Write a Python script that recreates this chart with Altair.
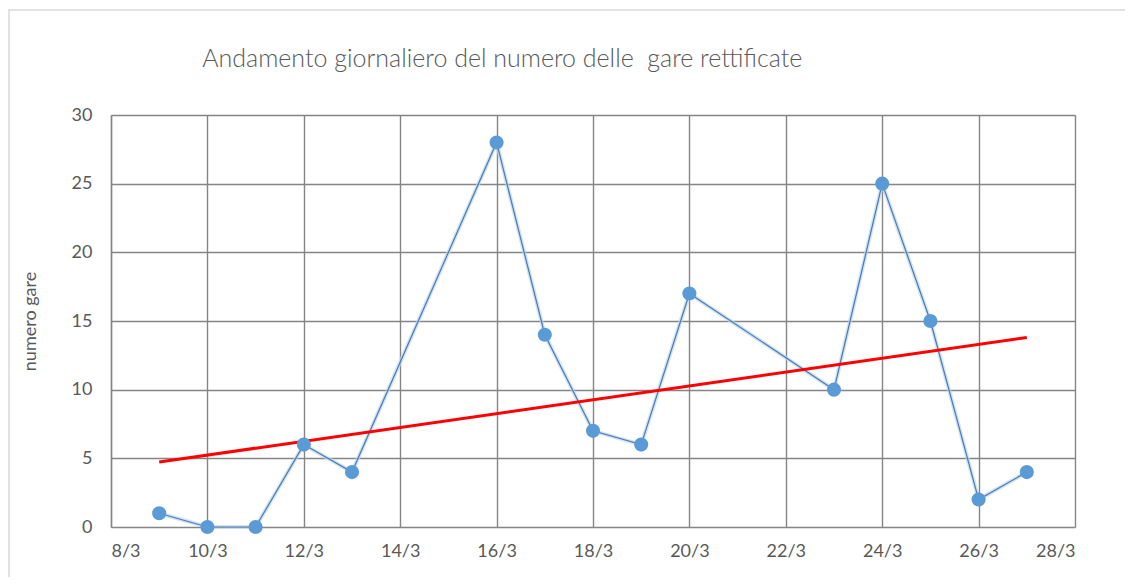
import altair as alt
import pandas as pd

# data (day of March, number of rectified tenders)
days = [9, 10, 11, 12, 13, 16, 17, 18, 19, 20, 23, 24, 25, 26, 27]
counts = [1, 0, 0, 6, 4, 28, 14, 7, 6, 17, 10, 25, 15, 2, 4]
x_ticks = [8, 10, 12, 14, 16, 18, 20, 22, 24, 26, 28]
y_ticks = [0, 5, 10, 15, 20, 25, 30]
month = "3"

df = pd.DataFrame({"day": days, "count": counts})

FONT = "Lato"
GREY_TXT = "#595959"
GRID = "#858585"

x = alt.X(
    "day:Q",
    scale=alt.Scale(domain=[8, 28], nice=False, zero=False),
    axis=alt.Axis(
        values=x_ticks,
        labelExpr=f"datum.value + '/{month}'",
        title=None,
        grid=True,
        gridColor=GRID,
        gridWidth=1.4,
        domain=False,
        ticks=False,
        labelPadding=15,
        labelFontSize=18,
        labelColor=GREY_TXT,
        labelFont=FONT,
    ),
)
y = alt.Y(
    "count:Q",
    scale=alt.Scale(domain=[0, 30], nice=False),
    axis=alt.Axis(
        values=y_ticks,
        title="numero gare",
        titleFont=FONT,
        titleFontSize=18,
        titleFontWeight="normal",
        titleColor=GREY_TXT,
        titleX=-81,
        titleY=206,
        titleAngle=-90,
        titleBaseline="middle",
        titleAlign="center",
        grid=True,
        gridColor=GRID,
        gridWidth=1.4,
        domain=True,
        domainColor=GRID,
        domainWidth=1.4,
        ticks=False,
        labelPadding=19,
        labelFontSize=18,
        labelColor=GREY_TXT,
        labelFont=FONT,
    ),
)

border = alt.Chart(pd.DataFrame({"a": [0]})).mark_rect(
    fill=None, stroke="#d9d9d9", strokeWidth=1.5, clip=False
).encode(
    x=alt.value(-102), x2=alt.value(1100), y=alt.value(-105), y2=alt.value(520)
)

glow = alt.Chart(df).mark_line(color="#bdd7ee", strokeWidth=4, opacity=0.7).encode(x=x, y=y)
line = alt.Chart(df).mark_line(color="#4a7ab5", strokeWidth=1.2).encode(x=x, y=y)
pts = alt.Chart(df).mark_circle(color="#5b9bd5", size=200, opacity=1).encode(x=x, y=y)
trend = (
    alt.Chart(df)
    .transform_regression("day", "count")
    .mark_line(color="#ff0000", strokeWidth=3)
    .encode(x=x, y=y)
)

chart = (
    alt.layer(border, glow, line, trend, pts)
    .properties(
        width=964,
        height=412,
        autosize=alt.AutoSizeParams(type="none"),
        padding={"left": 103, "top": 107, "right": 50, "bottom": 50},
        title=alt.TitleParams(
            "Andamento giornaliero del numero delle\u00a0 gare rettificate",
            anchor="start",
            dx=194,
            offset=-63,
            font=FONT,
            fontSize=25,
            fontWeight=300,
            color=GREY_TXT,
        ),
    )
    .configure_view(stroke=GRID, strokeWidth=1.4)
    .configure(background="white")
)

chart.save("out.html", embed_options={"renderer": "svg", "actions": False})
